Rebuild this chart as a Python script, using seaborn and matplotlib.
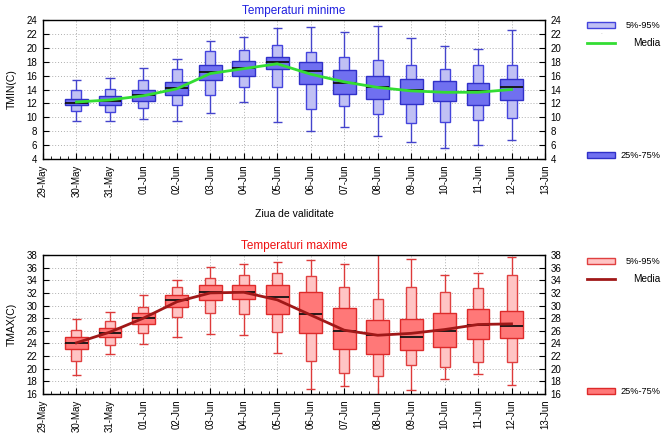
import numpy as np
import pandas as pd
import matplotlib
matplotlib.use("Agg")
import matplotlib.pyplot as plt
from matplotlib.patches import Rectangle
from matplotlib.lines import Line2D
import seaborn as sns

# ---------------- data ----------------
tick_labels = ["29-May", "30-May", "31-May", "01-Jun", "02-Jun", "03-Jun", "04-Jun",
               "05-Jun", "06-Jun", "07-Jun", "08-Jun", "09-Jun", "10-Jun", "11-Jun",
               "12-Jun", "13-Jun"]
days = tick_labels[1:15]

# TMIN
tmin_wlo = [9.4, 9.5, 9.8, 9.5, 10.6, 12.2, 9.3, 8.1, 8.6, 7.3, 6.5, 5.6, 6.0, 6.7]
tmin_whi = [15.3, 15.6, 17.1, 18.4, 21.0, 21.5, 22.9, 23.0, 22.3, 23.1, 21.4, 20.2, 19.8, 22.6]
tmin_p05 = [10.9, 10.8, 11.3, 11.7, 13.2, 14.3, 14.4, 11.2, 11.6, 10.5, 9.2, 9.3, 9.6, 9.9]
tmin_p95 = [13.9, 14.1, 15.3, 16.9, 19.5, 19.7, 20.4, 19.4, 18.7, 18.2, 17.5, 17.0, 17.5, 17.5]
tmin_p25 = [11.7, 11.8, 12.3, 13.2, 15.3, 16.0, 17.0, 14.8, 13.3, 12.6, 11.9, 12.3, 11.7, 12.5]
tmin_p75 = [12.6, 13.1, 14.0, 15.1, 17.5, 18.1, 18.7, 17.9, 16.8, 16.0, 15.5, 15.2, 15.0, 15.5]
tmin_med = [12.0, 12.4, 13.2, 14.2, 16.5, 17.1, 18.0, 16.6, 15.0, 14.3, 14.0, 13.7, 13.8, 14.3]
tmin_mean = [12.2, 12.5, 13.1, 14.1, 16.3, 17.0, 17.7, 16.2, 15.1, 14.3, 13.8, 13.6, 13.6, 14.0]

# TMAX
tmax_wlo = [19.0, 22.4, 23.9, 25.0, 25.5, 25.3, 22.5, 16.8, 17.2, 15.5, 16.6, 18.3, 19.2, 17.4]
tmax_whi = [27.9, 28.9, 31.7, 34.1, 36.1, 36.5, 36.9, 37.2, 36.6, 38.5, 37.4, 34.8, 35.2, 37.7]
tmax_p05 = [21.2, 23.8, 25.7, 28.2, 28.8, 28.6, 25.8, 21.2, 19.4, 18.8, 20.6, 20.2, 21.1, 21.0]
tmax_p95 = [26.2, 27.6, 29.8, 33.0, 34.3, 34.8, 35.2, 34.6, 32.9, 31.0, 32.9, 32.2, 32.7, 34.8]
tmax_p25 = [23.1, 25.0, 27.1, 29.7, 30.9, 31.0, 28.6, 25.7, 23.1, 22.4, 23.0, 23.5, 24.7, 24.8]
tmax_p75 = [25.0, 26.5, 28.8, 31.7, 33.2, 33.3, 33.2, 32.2, 29.6, 27.7, 27.8, 28.8, 29.5, 29.2]
tmax_med = [24.1, 25.7, 28.1, 30.9, 32.1, 32.2, 31.3, 28.6, 25.9, 25.3, 25.0, 25.9, 26.9, 26.7]
tmax_mean = [24.1, 25.8, 28.0, 30.6, 32.0, 32.1, 30.9, 28.5, 26.1, 25.3, 25.6, 26.2, 27.0, 27.1]

plt.rcParams['font.family'] = ['Liberation Sans', 'DejaVu Sans']
FS = 7

fig = plt.figure(figsize=(6.68, 4.33), dpi=100)
W = 668.0
H = 433.0


def px_axes(left, top, right, bottom):
    return fig.add_axes([left / W, 1 - bottom / H, (right - left) / W, (bottom - top) / H])


def draw_panel(ax, wlo, whi, p05, p95, p25, p75, med, mean, ylim, yticks,
               light_fc, light_ec, dark_fc, dark_ec, whisk_c, mean_c, ylabel, title, title_c):
    x = np.arange(1, len(days) + 1)
    df = pd.DataFrame({"x": x, "mean": mean})
    ax.set_xlim(0, 15)
    ax.set_ylim(*ylim)
    ax.set_axisbelow(True)
    ax.grid(True, which="major", color="#b0b0b0", linestyle=(0, (1, 2)), linewidth=0.7)
    # whiskers
    ax.vlines(x, wlo, p05, color=whisk_c, linewidth=1.0, zorder=2)
    ax.vlines(x, p95, whi, color=whisk_c, linewidth=1.0, zorder=2)
    ax.hlines(wlo, x - 0.14, x + 0.14, color=whisk_c, linewidth=1.0, zorder=2)
    ax.hlines(whi, x - 0.14, x + 0.14, color=whisk_c, linewidth=1.0, zorder=2)
    # 5-95 light box
    ax.bar(x, np.array(p95) - np.array(p05), bottom=p05, width=0.3,
           color=light_fc, edgecolor=light_ec, linewidth=1.0, zorder=3)
    # 25-75 dark box
    ax.bar(x, np.array(p75) - np.array(p25), bottom=p25, width=0.68,
           color=dark_fc, edgecolor=dark_ec, linewidth=1.0, zorder=4)
    # median
    ax.hlines(med, x - 0.34, x + 0.34, color="#111111", linewidth=1.3, zorder=5)
    # mean line
    sns.lineplot(data=df, x="x", y="mean", ax=ax, color=mean_c, linewidth=2.0,
                 zorder=6, legend=False)
    ax.set_xticks(np.arange(0, 16))
    ax.set_xticks(np.arange(0, 15.01, 0.25), minor=True)
    ax.set_xticklabels(tick_labels, rotation=90, fontsize=FS)
    ax.set_yticks(yticks)
    ax.set_yticklabels([str(v) for v in yticks], fontsize=FS)
    ax.tick_params(axis="both", which="major", direction="in", length=4, width=0.8,
                   labelsize=FS, top=False, right=True, labelright=True, pad=4)
    ax.tick_params(axis="x", which="minor", direction="in", length=2, width=0.6, top=False)
    ax.set_xlabel("")
    ax.set_ylabel(ylabel, fontsize=FS + 0.5, labelpad=7)
    for s in ax.spines.values():
        s.set_linewidth(1.0)
        s.set_color("black")
    ax.set_title(title, color=title_c, fontsize=FS + 1.5, pad=4)


ax1 = px_axes(43, 20, 545, 159)
draw_panel(ax1, tmin_wlo, tmin_whi, tmin_p05, tmin_p95, tmin_p25, tmin_p75, tmin_med, tmin_mean,
           (4, 24), list(range(4, 25, 2)),
           "#c0c0f4", "#4444dd", "#7070f0", "#3030c8", "#4444cc", "#33dd33",
           "TMIN(C)", "Temperaturi minime", "#2020e0")
ax1.set_xlabel("Ziua de validitate", fontsize=FS + 0.5, labelpad=9)

ax2 = px_axes(43, 255, 545, 394)
draw_panel(ax2, tmax_wlo, tmax_whi, tmax_p05, tmax_p95, tmax_p25, tmax_p75, tmax_med, tmax_mean,
           (16, 38), list(range(16, 39, 2)),
           "#ffc4c4", "#e04040", "#ff7878", "#dd2a2a", "#dd3a3a", "#a01818",
           "TMAX(C)", "Temperaturi maxime", "#ee1111")


# ---------------- legends (figure space) ----------------
def legend(y_top, y_mid, y_bot, light_fc, light_ec, dark_fc, dark_ec, mean_c):
    def fx(v):
        return v / W

    def fy(v):
        return 1 - v / H
    fig.patches.append(Rectangle((fx(587), fy(y_top + 3)), 28 / W, 6 / H, transform=fig.transFigure,
                                 facecolor=light_fc, edgecolor=light_ec, linewidth=1.0))
    fig.text(fx(660), fy(y_top), "5%-95%", ha="right", va="center", fontsize=6.6)
    fig.text(fx(601), fy(y_top + 9), "\u00b7", ha="center", va="center", fontsize=4, color="#888888")
    fig.lines.append(Line2D([fx(587), fx(615)], [fy(y_mid), fy(y_mid)], transform=fig.transFigure,
                            color=mean_c, linewidth=2.0))
    fig.text(fx(660), fy(y_mid), "Media", ha="right", va="center", fontsize=7.2)
    fig.patches.append(Rectangle((fx(587), fy(y_bot + 3)), 28 / W, 6 / H, transform=fig.transFigure,
                                 facecolor=dark_fc, edgecolor=dark_ec, linewidth=1.0))
    fig.text(fx(660), fy(y_bot), "25%-75%", ha="right", va="center", fontsize=6.6)


legend(25, 43, 155, "#c0c0f4", "#4444dd", "#7070f0", "#3030c8", "#33dd33")
legend(261, 279, 391, "#ffc4c4", "#e04040", "#ff7878", "#dd2a2a", "#a01818")

fig.savefig("out.png", dpi=100)
